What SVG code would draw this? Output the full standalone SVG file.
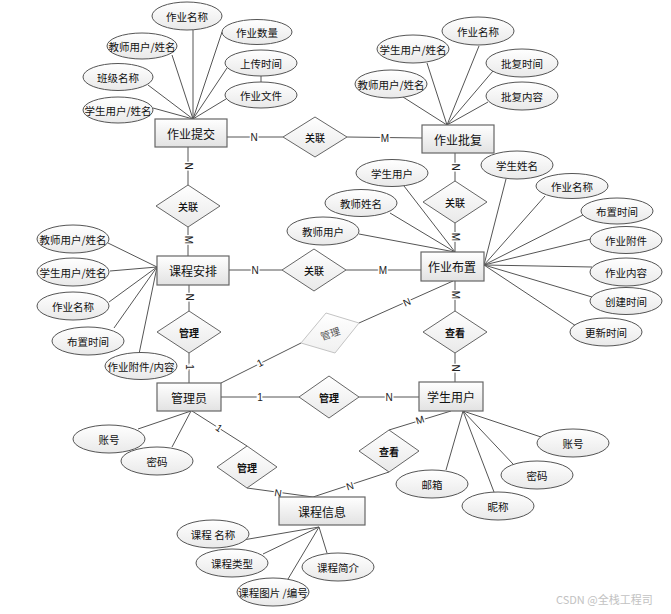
<svg xmlns="http://www.w3.org/2000/svg" width="671" height="614" viewBox="0 0 671 614">
<defs>
<linearGradient id="gr" x1="0" y1="0" x2="0" y2="1"><stop offset="0" stop-color="#ffffff"/><stop offset="1" stop-color="#e2e2e2"/></linearGradient>
<linearGradient id="ge" x1="0" y1="0" x2="0" y2="1"><stop offset="0" stop-color="#ffffff"/><stop offset="1" stop-color="#e9e9e9"/></linearGradient>
<linearGradient id="gl" x1="0" y1="0" x2="0" y2="1"><stop offset="0" stop-color="#ffffff"/><stop offset="1" stop-color="#f0f0f0"/></linearGradient>
</defs>
<style>
.ent rect{fill:url(#gr);stroke:#666;stroke-width:1.2}
.ent text{font-family:"Noto Sans CJK SC","Liberation Sans",sans-serif;font-size:12px;fill:#111;text-anchor:middle;dominant-baseline:central}
.att ellipse{fill:url(#ge);stroke:#555;stroke-width:1}
.att text{font-family:"Noto Sans CJK SC","Liberation Sans",sans-serif;font-size:10.5px;fill:#111;text-anchor:middle;dominant-baseline:central}
.rel polygon{fill:url(#ge);stroke:#666;stroke-width:1}
.rel text{font-family:"Noto Sans CJK SC","Liberation Sans",sans-serif;font-size:10px;font-weight:bold;fill:#111;text-anchor:middle;dominant-baseline:central}
.rel.gl text{font-weight:500}
.rel.light polygon{fill:url(#gl);stroke:#c4c4c4}
.rel.light text{fill:#555;font-weight:normal}
#connectors line{stroke:#555;stroke-width:1}
.card{font-family:"Liberation Sans",sans-serif;font-size:10px;fill:#222;text-anchor:middle;dominant-baseline:central;stroke:#fff;stroke-width:3;paint-order:stroke}
.wm{font-family:"Noto Sans CJK SC","Liberation Sans",sans-serif;font-size:11px;fill:#c2c2c2}
</style>
<rect width="671" height="614" fill="#fff"/>
<g id="connectors">
<line x1="193" y1="30" x2="193" y2="119"/>
<line x1="222" y1="32" x2="193" y2="119"/>
<line x1="172" y1="55" x2="193" y2="119"/>
<line x1="227" y1="68" x2="193" y2="119"/>
<line x1="148" y1="85" x2="193" y2="119"/>
<line x1="226" y1="99" x2="193" y2="119"/>
<line x1="153" y1="108" x2="193" y2="119"/>
<line x1="261" y1="70" x2="261" y2="88"/>
<line x1="479" y1="46" x2="447" y2="125"/>
<line x1="427" y1="63" x2="447" y2="125"/>
<line x1="493" y1="71" x2="447" y2="125"/>
<line x1="403" y1="97" x2="447" y2="125"/>
<line x1="488" y1="102" x2="447" y2="125"/>
<line x1="404" y1="186" x2="455" y2="252"/>
<line x1="390" y1="213" x2="455" y2="252"/>
<line x1="359" y1="234" x2="455" y2="252"/>
<line x1="506" y1="179" x2="484" y2="265"/>
<line x1="545" y1="196" x2="484" y2="265"/>
<line x1="583" y1="215" x2="484" y2="265"/>
<line x1="591" y1="239" x2="484" y2="265"/>
<line x1="592" y1="267" x2="484" y2="265"/>
<line x1="592" y1="297" x2="484" y2="265"/>
<line x1="576" y1="326" x2="484" y2="265"/>
<line x1="108" y1="243" x2="157" y2="267"/>
<line x1="110" y1="271" x2="157" y2="267"/>
<line x1="109" y1="302" x2="157" y2="267"/>
<line x1="114" y1="328" x2="157" y2="267"/>
<line x1="139" y1="354" x2="157" y2="267"/>
<line x1="138" y1="429" x2="191" y2="411"/>
<line x1="172" y1="447" x2="191" y2="411"/>
<line x1="541" y1="437" x2="463" y2="411"/>
<line x1="513" y1="464" x2="463" y2="411"/>
<line x1="494" y1="492" x2="463" y2="411"/>
<line x1="446" y1="470" x2="463" y2="411"/>
<line x1="243" y1="540" x2="319" y2="527"/>
<line x1="263" y1="554" x2="319" y2="527"/>
<line x1="288" y1="579" x2="319" y2="527"/>
<line x1="327" y1="553" x2="319" y2="527"/>
<line x1="227" y1="137" x2="283" y2="137"/>
<line x1="347" y1="137" x2="422" y2="138"/>
<line x1="188" y1="147" x2="188" y2="185"/>
<line x1="188" y1="227" x2="188" y2="256"/>
<line x1="229" y1="270" x2="282" y2="270"/>
<line x1="346" y1="270" x2="421" y2="270"/>
<line x1="189" y1="285" x2="189" y2="311"/>
<line x1="189" y1="353" x2="189" y2="383"/>
<line x1="455" y1="153" x2="455" y2="181"/>
<line x1="455" y1="223" x2="455" y2="252"/>
<line x1="455" y1="281" x2="455" y2="311"/>
<line x1="455" y1="353" x2="455" y2="382"/>
<line x1="221" y1="383" x2="301" y2="343"/>
<line x1="359" y1="323" x2="453" y2="281"/>
<line x1="221" y1="397" x2="299" y2="397"/>
<line x1="359" y1="397" x2="419" y2="397"/>
<line x1="192" y1="411" x2="247" y2="446"/>
<line x1="247" y1="488" x2="313" y2="497"/>
<line x1="451" y1="411" x2="389" y2="430"/>
<line x1="389" y1="472" x2="313" y2="497"/>
<text class="card" x="254" y="137">N</text>
<text class="card" x="385" y="138">M</text>
<text class="card" transform="rotate(90 188 166)" x="188" y="166">N</text>
<text class="card" transform="rotate(90 188 240)" x="188" y="240">M</text>
<text class="card" x="255" y="270">N</text>
<text class="card" x="383" y="270">M</text>
<text class="card" transform="rotate(90 189 297)" x="189" y="297">N</text>
<text class="card" transform="rotate(90 189 367)" x="189" y="367">1</text>
<text class="card" transform="rotate(90 455 167)" x="455" y="167">N</text>
<text class="card" transform="rotate(90 455 237)" x="455" y="237">M</text>
<text class="card" transform="rotate(90 455 295)" x="455" y="295">M</text>
<text class="card" transform="rotate(90 455 368)" x="455" y="368">N</text>
<text class="card" transform="rotate(-26.6 260 363)" x="260" y="363">1</text>
<text class="card" transform="rotate(-23.6 407 302)" x="407" y="302">N</text>
<text class="card" x="260" y="397">1</text>
<text class="card" x="389" y="397">N</text>
<text class="card" transform="rotate(35 219 428)" x="219" y="428">1</text>
<text class="card" transform="rotate(8 278 493)" x="278" y="493">N</text>
<text class="card" transform="rotate(-17 420 420)" x="420" y="420">M</text>
<text class="card" transform="rotate(-17 350 486)" x="350" y="486">N</text>
</g>
<g id="e-zytj" class="ent"><rect x="155" y="119" width="72" height="28"/><text x="191" y="133">作业提交</text></g>
<g id="e-zypf" class="ent"><rect x="422" y="125" width="72" height="28"/><text x="458" y="139">作业批复</text></g>
<g id="e-zybz" class="ent"><rect x="421" y="252" width="63" height="29"/><text x="452" y="266">作业布置</text></g>
<g id="e-kcap" class="ent"><rect x="157" y="256" width="72" height="29"/><text x="193" y="270">课程安排</text></g>
<g id="e-gly" class="ent"><rect x="157" y="383" width="64" height="28"/><text x="189" y="397">管理员</text></g>
<g id="e-xsyh" class="ent"><rect x="419" y="382" width="64" height="29"/><text x="451" y="396">学生用户</text></g>
<g id="e-kcxx" class="ent"><rect x="279" y="497" width="86" height="28"/><text x="322" y="511">课程信息</text></g>
<g id="r1" class="rel gl"><polygon points="283,137 315,117 347,137 315,157"/><text x="315" y="137">关联</text></g>
<g id="r2" class="rel gl"><polygon points="156,206 188,185 220,206 188,227"/><text x="188" y="206">关联</text></g>
<g id="r3" class="rel gl"><polygon points="423,202 455,181 487,202 455,223"/><text x="455" y="202">关联</text></g>
<g id="r4" class="rel gl"><polygon points="282,270 314,249 346,270 314,291"/><text x="314" y="270">关联</text></g>
<g id="r5" class="rel"><polygon points="157,332 189,311 221,332 189,353"/><text x="189" y="332">管理</text></g>
<g id="r6" class="rel light"><polygon points="326,313 359,323 335,353 301,343"/><text transform="rotate(-19 330 333)" x="330" y="333">管理</text></g>
<g id="r7" class="rel"><polygon points="299,397 329,376 359,397 329,418"/><text x="329" y="397">管理</text></g>
<g id="r8" class="rel"><polygon points="423,332 455,311 487,332 455,353"/><text x="455" y="332">查看</text></g>
<g id="r9" class="rel"><polygon points="217,467 247,446 277,467 247,488"/><text x="247" y="467">管理</text></g>
<g id="r10" class="rel"><polygon points="359,451 389,430 419,451 389,472"/><text x="389" y="451">查看</text></g>
<g id="a1" class="att"><ellipse cx="187" cy="16" rx="35" ry="14"/><text x="187" y="16">作业名称</text></g>
<g id="a2" class="att"><ellipse cx="257" cy="32" rx="35" ry="12.5"/><text x="257" y="32">作业数量</text></g>
<g id="a3" class="att"><ellipse cx="142" cy="46" rx="35" ry="13"/><text x="142" y="46">教师用户/姓名</text></g>
<g id="a4" class="att"><ellipse cx="261" cy="63" rx="36" ry="13"/><text x="261" y="63">上传时间</text></g>
<g id="a5" class="att"><ellipse cx="118" cy="77" rx="35" ry="13.5"/><text x="118" y="77">班级名称</text></g>
<g id="a6" class="att"><ellipse cx="261" cy="95" rx="36" ry="13"/><text x="261" y="95">作业文件</text></g>
<g id="a7" class="att"><ellipse cx="118" cy="110" rx="35" ry="13"/><text x="118" y="110">学生用户/姓名</text></g>
<g id="b1" class="att"><ellipse cx="478" cy="31" rx="36" ry="14"/><text x="478" y="31">作业名称</text></g>
<g id="b2" class="att"><ellipse cx="413" cy="49" rx="36" ry="14"/><text x="413" y="49">学生用户/姓名</text></g>
<g id="b3" class="att"><ellipse cx="522" cy="63" rx="36" ry="14"/><text x="522" y="63">批复时间</text></g>
<g id="b4" class="att"><ellipse cx="391" cy="84" rx="36" ry="14"/><text x="391" y="84">教师用户/姓名</text></g>
<g id="b5" class="att"><ellipse cx="522" cy="96" rx="36" ry="14"/><text x="522" y="96">批复内容</text></g>
<g id="c1" class="att"><ellipse cx="392" cy="173" rx="36" ry="13.5"/><text x="392" y="173">学生用户</text></g>
<g id="c2" class="att"><ellipse cx="361" cy="203" rx="36" ry="13.5"/><text x="361" y="203">教师姓名</text></g>
<g id="c3" class="att"><ellipse cx="323" cy="231" rx="36" ry="14"/><text x="323" y="231">教师用户</text></g>
<g id="c4" class="att"><ellipse cx="517" cy="165" rx="36" ry="14"/><text x="517" y="165">学生姓名</text></g>
<g id="c5" class="att"><ellipse cx="572" cy="186" rx="36" ry="12.5"/><text x="572" y="186">作业名称</text></g>
<g id="c6" class="att"><ellipse cx="617" cy="211" rx="36" ry="13"/><text x="617" y="211">布置时间</text></g>
<g id="c7" class="att"><ellipse cx="626" cy="240" rx="36" ry="13.5"/><text x="626" y="240">作业附件</text></g>
<g id="c8" class="att"><ellipse cx="626" cy="272" rx="36" ry="14"/><text x="626" y="272">作业内容</text></g>
<g id="c9" class="att"><ellipse cx="626" cy="301" rx="36" ry="13.5"/><text x="626" y="301">创建时间</text></g>
<g id="c10" class="att"><ellipse cx="606" cy="332" rx="36" ry="14"/><text x="606" y="332">更新时间</text></g>
<g id="d1" class="att"><ellipse cx="73" cy="239" rx="36" ry="14"/><text x="73" y="239">教师用户/姓名</text></g>
<g id="d2" class="att"><ellipse cx="73" cy="272" rx="36" ry="14"/><text x="73" y="272">学生用户/姓名</text></g>
<g id="d3" class="att"><ellipse cx="73" cy="306" rx="36" ry="14"/><text x="73" y="306">作业名称</text></g>
<g id="d4" class="att"><ellipse cx="88" cy="341" rx="36" ry="14"/><text x="88" y="341">布置时间</text></g>
<g id="d5" class="att"><ellipse cx="141" cy="366" rx="36" ry="13.5"/><text x="141" y="366">作业附件/内容</text></g>
<g id="f1" class="att"><ellipse cx="109" cy="439" rx="36" ry="14"/><text x="109" y="439">账号</text></g>
<g id="f2" class="att"><ellipse cx="157" cy="461" rx="36" ry="14"/><text x="157" y="461">密码</text></g>
<g id="g1" class="att"><ellipse cx="573" cy="443" rx="36" ry="14"/><text x="573" y="443">账号</text></g>
<g id="g2" class="att"><ellipse cx="537" cy="475" rx="36" ry="14"/><text x="537" y="475">密码</text></g>
<g id="g3" class="att"><ellipse cx="432" cy="484" rx="36" ry="14"/><text x="432" y="484">邮箱</text></g>
<g id="g4" class="att"><ellipse cx="498" cy="506" rx="36" ry="14"/><text x="498" y="506">昵称</text></g>
<g id="h1" class="att"><ellipse cx="213" cy="534" rx="36" ry="14"/><text x="213" y="534">课程 名称</text></g>
<g id="h2" class="att"><ellipse cx="232" cy="563" rx="36" ry="14"/><text x="232" y="563">课程类型</text></g>
<g id="h3" class="att"><ellipse cx="338" cy="567" rx="36" ry="14"/><text x="338" y="567">课程简介</text></g>
<g id="h4" class="att"><ellipse cx="273" cy="592" rx="36" ry="14"/><text x="273" y="592">课程图片 /编号</text></g>
<text class="wm" x="556" y="604">CSDN @全栈工程司</text>
</svg>
